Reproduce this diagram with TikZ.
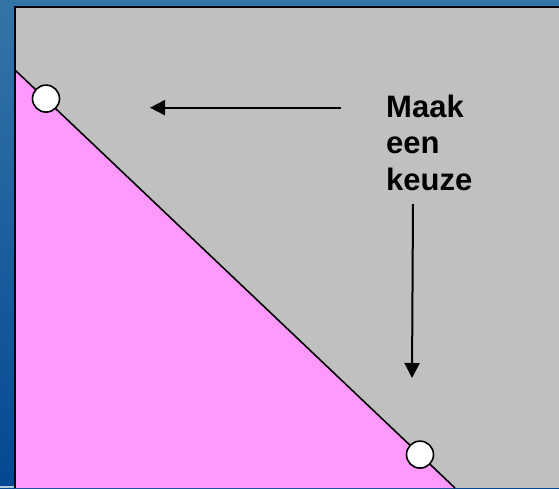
\documentclass[tikz,border=0pt]{standalone}
\usepackage{fontspec}
\usetikzlibrary{arrows.meta}
\newfontfamily\keuzefont{Liberation Sans}
\definecolor{slidetop}{RGB}{52,117,168}
\definecolor{slidebot}{RGB}{4,72,146}
\definecolor{vlak}{RGB}{192,192,192}
\definecolor{roze}{RGB}{255,153,255}
\begin{document}
\begin{tikzpicture}[x=1pt,y=1pt, every node/.style={inner sep=0pt}]
\coordinate (c1) at (0,0);
\coordinate (c2) at (559,488);
\coordinate (g1) at (15,0);
\coordinate (g2) at (15,481);
\coordinate (g3) at (559,481);
\coordinate (l1) at (15,418);
\coordinate (l2) at (455,0);
\coordinate (p1) at (46,389.4);
\coordinate (p2) at (420,33.4);
\coordinate (h1) at (341,380.3);
\coordinate (h2) at (150,380.3);
\coordinate (v1) at (413,284);
\coordinate (v2) at (412,110);

  \useasboundingbox (c1) rectangle (c2);
  \shade[top color=slidetop,bottom color=slidebot] (c1) rectangle (c2);
  \fill[color=slidetop!40!white] (0,0) rectangle (14,2);
  \fill[color=vlak] (g1) rectangle (g3);
  \fill[color=roze] (l1) -- (l2) -- (g1) -- cycle;
  \draw[color=black,line width=2pt] (g1) to[] (g2) to[] (g3);
  \draw[color=black,line width=1.6pt] (l1) to[] (l2);
  \node (open1) at (p1) [fill=white,draw,line width=1.6pt,circle,minimum size=27pt] {};
  \node (open2) at (p2) [fill=white,draw,line width=1.6pt,circle,minimum size=27pt] {};
  \draw[color=black,line width=2pt,-{Triangle[length=15pt,width=15pt]}] (h1) to[] (h2);
  \draw[color=black,line width=2pt,-{Triangle[length=15pt,width=15pt]}] (v1) to[] (v2);
  \node (keuze) at (386,297.7) [anchor=base west,align=left,font=\keuzefont\bfseries\fontsize{31}{36.5}\selectfont] {Maak\\een\\keuze};
\end{tikzpicture}
\end{document}
